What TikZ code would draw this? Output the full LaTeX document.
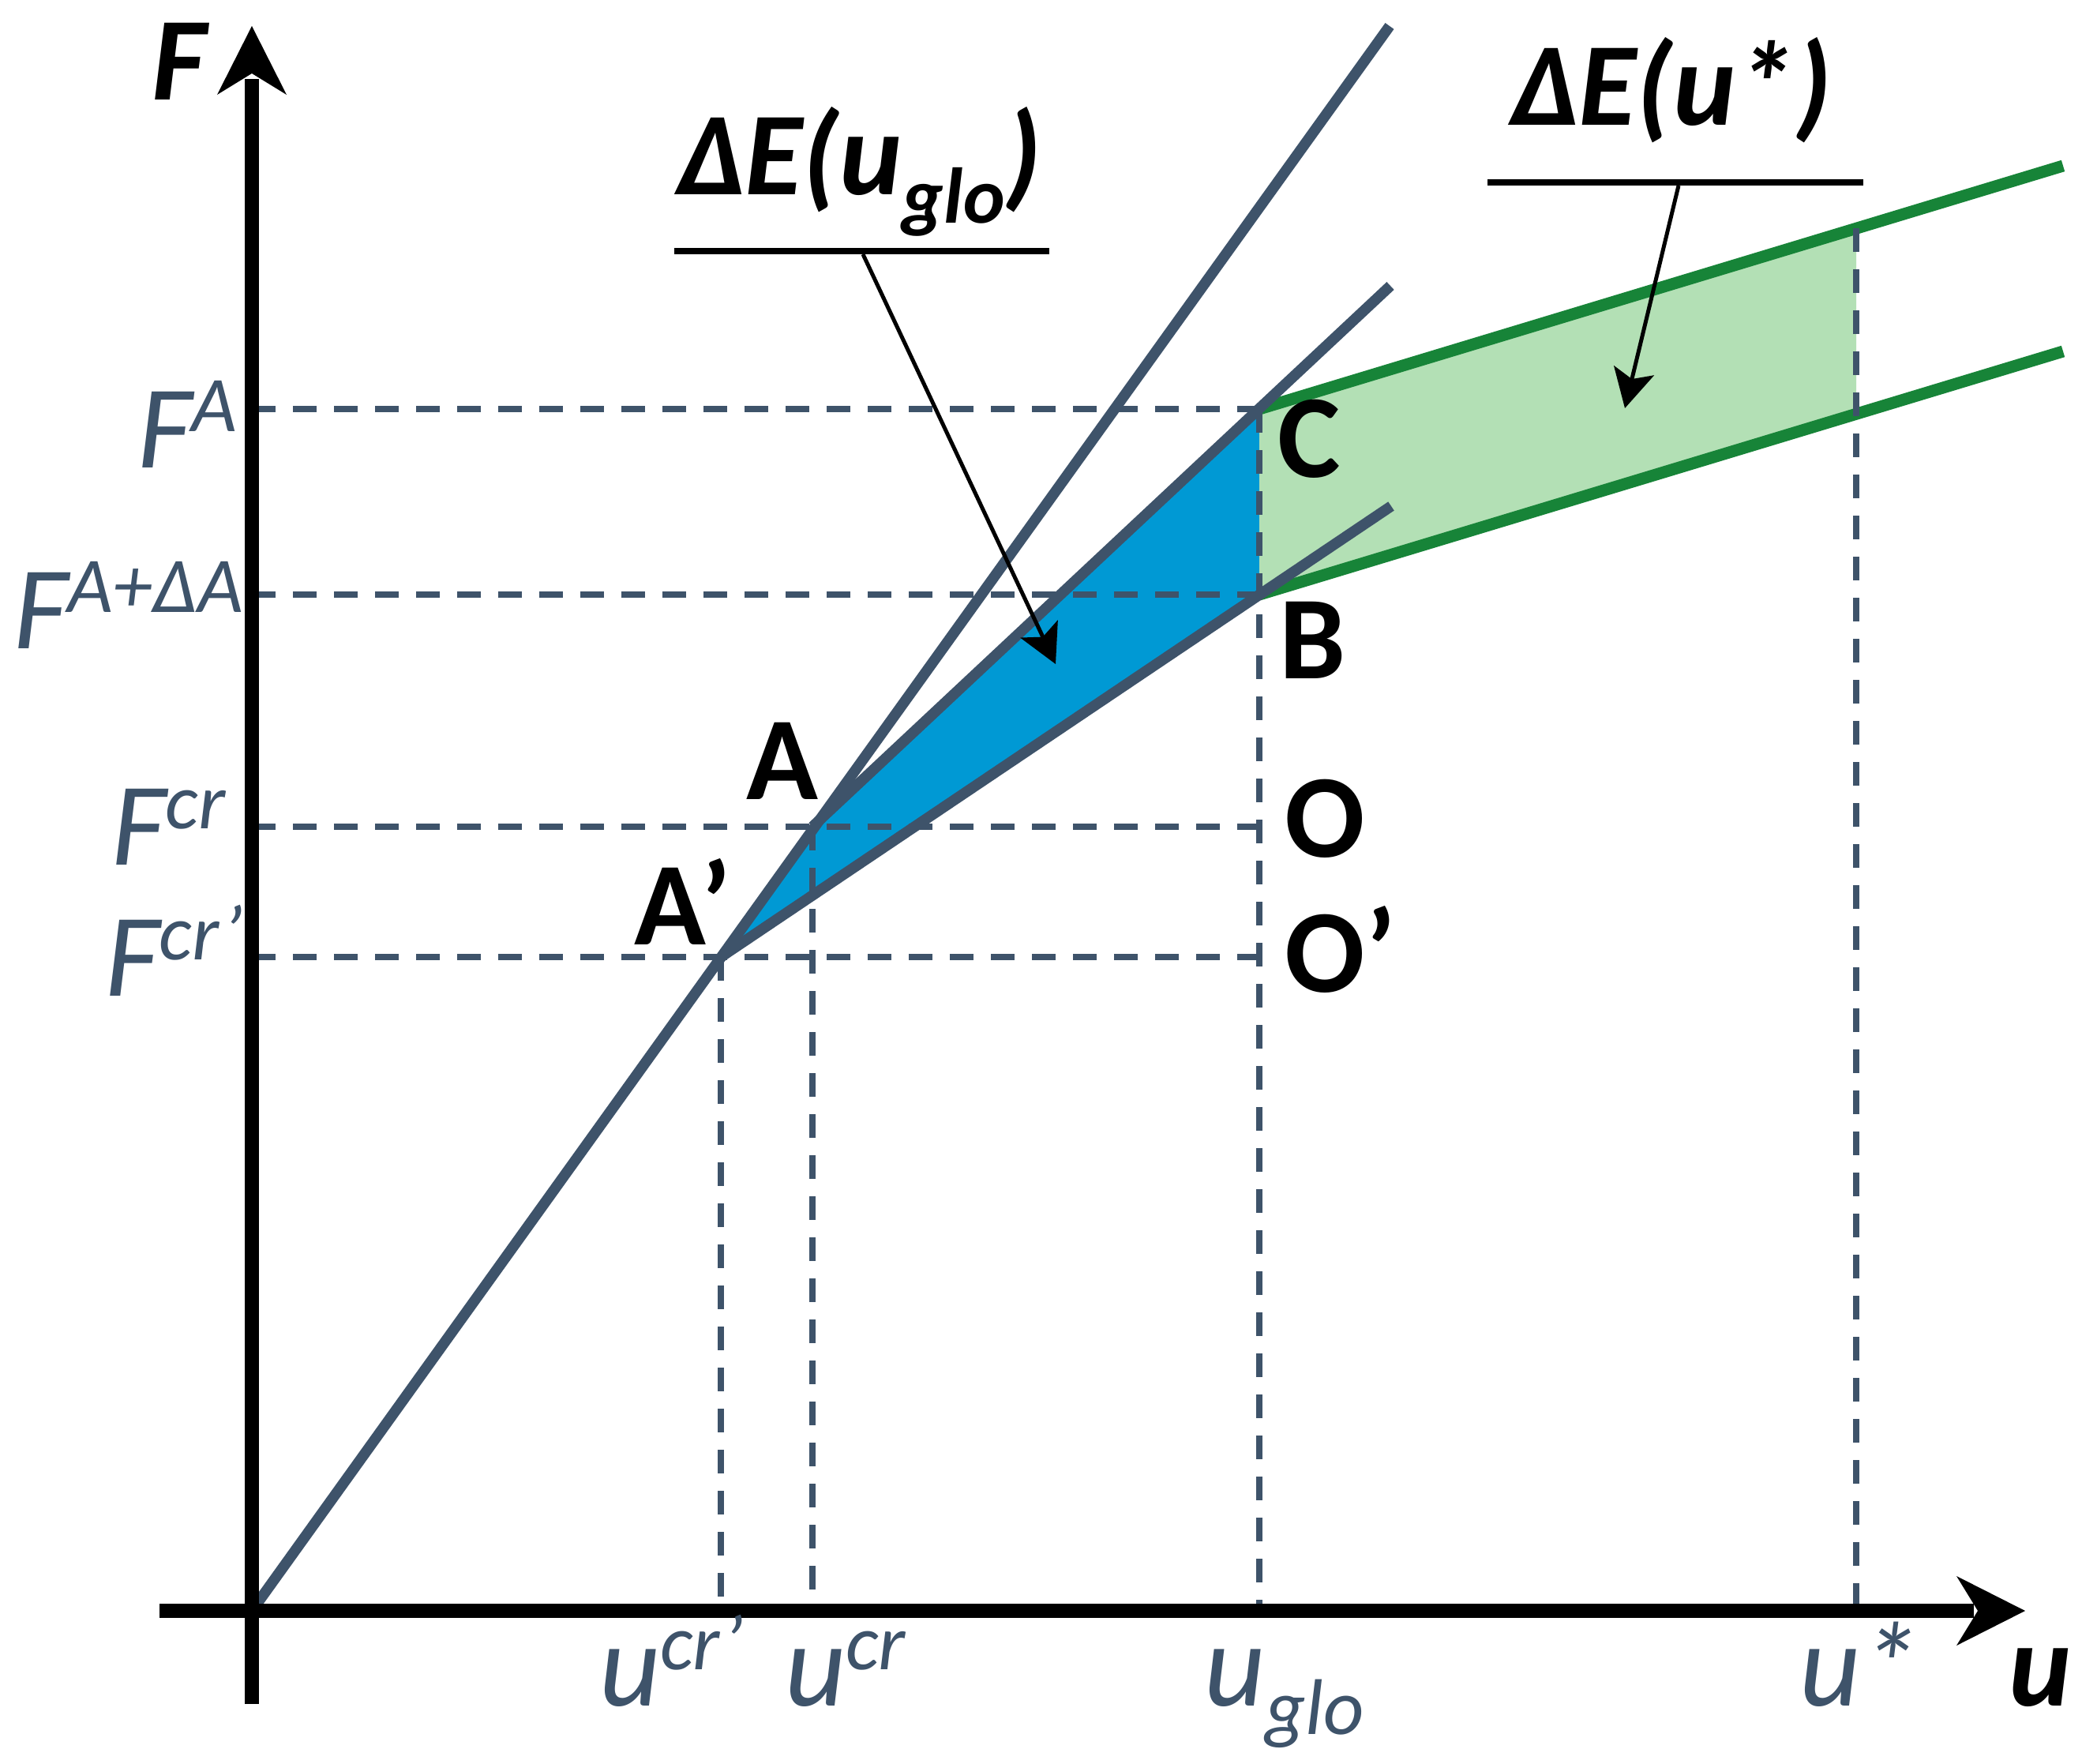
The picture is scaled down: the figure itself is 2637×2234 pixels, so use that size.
\documentclass[tikz,border=0pt]{standalone}
\usepackage{fontspec}
\setmainfont{Carlito}
\usetikzlibrary{arrows.meta}
\definecolor{slate}{RGB}{62,83,106}
\definecolor{fillblue}{RGB}{0,153,212}
\definecolor{fillgreen}{RGB}{179,224,181}
\definecolor{linegreen}{RGB}{23,132,56}
\newcommand\sps[1]{\raisebox{46pt}{\fontsize{100pt}{100pt}\selectfont #1}}
\newcommand\sbs[1]{\raisebox{-36pt}{\fontsize{100pt}{100pt}\selectfont #1}}
\begin{document}
\begin{tikzpicture}[x=1pt,y=-1pt,
  lbl/.style={anchor=base west, inner sep=0pt, outer sep=0pt},
  ticklbl/.style={lbl, text=slate, font=\fontsize{150pt}{150pt}\selectfont\itshape},
  axlbl/.style={lbl, font=\fontsize{150pt}{150pt}\selectfont\bfseries\itshape},
  ptlbl/.style={lbl, font=\fontsize{150pt}{150pt}\selectfont\bfseries},
  guide/.style={draw=slate, line width=8pt, dash pattern=on 30pt off 22pt},
  graycurve/.style={draw=slate, line width=13.5pt},
  gline/.style={draw=linegreen, line width=15pt},
  axisline/.style={draw=black, line width=18pt},
  pointer/.style={draw=black, line width=5pt, -{Stealth[length=49pt,width=52pt,inset=11pt]}},
  underl/.style={draw=black, line width=8pt},
]
\useasboundingbox (0,0) rectangle (2637,2234);
% key points
\coordinate (O) at (319,2040);
\coordinate (T) at (1760,33);
\coordinate (A) at (1029,1047);
\coordinate (Ap) at (913,1212);
\coordinate (C) at (1595,518);
\coordinate (B) at (1595,753);
\coordinate (Oc) at (1595,1047);
\coordinate (Ocp) at (1595,1212);
\coordinate (ACend) at (1761,362);
\coordinate (ApBend) at (1762,641);
\coordinate (Gu) at (2351,289);
\coordinate (Gl) at (2351,524);
\coordinate (GuEnd) at (2613,210);
\coordinate (GlEnd) at (2613,445);
\coordinate (Yb) at (319,2158);
\coordinate (Yt) at (319,100);
\coordinate (Xl) at (202,2040);
\coordinate (Xr) at (2500,2040);
% fills
\fill[fillblue] (Ap) -- (A) -- (C) -- (B) -- cycle;
\fill[fillgreen] (C) -- (Gu) -- (Gl) -- (B) -- cycle;
% green lines
\draw[gline] (C) -- (GuEnd);
\draw[gline] (B) -- (GlEnd);
% guides
\draw[guide] (O |- C) -- (C);
\draw[guide] (O |- B) -- (B);
\draw[guide] (O |- A) -- (Oc);
\draw[guide] (O |- Ap) -- (Ocp);
\draw[guide] (C) -- (C |- O);
\draw[guide] (A) -- (A |- O);
\draw[guide] (Ap) -- (Ap |- O);
\draw[guide] (Gu) -- (Gu |- O);
% gray curves
\draw[graycurve] (O) -- (T);
\draw[graycurve] (A) -- (ACend);
\draw[graycurve] (Ap) -- (ApBend);
% axes
\draw[axisline] (Yb) -- (Yt);
\fill[black] (319,33) -- (363,120) -- (319,93) -- (275,120) -- cycle;
\draw[axisline] (Xl) -- (Xr);
\fill[black] (2565,2040) -- (2478,2084) -- (2505,2040) -- (2478,1996) -- cycle;
% axis labels
\node[axlbl] (lF) at (192,127) {F};
\node[axlbl] (lu) at (2544,2160) {u};
% tick labels
\node[ticklbl] (lFA) at (174,592) {F\sps{A}};
\node[ticklbl] (lFAdA) at (17,821) {F\sps{A+ΔA}};
\node[ticklbl] (lFcr) at (141,1095) {F\sps{cr}};
\node[ticklbl] (lFcrp) at (133,1261) {F\sps{cr’}};
\node[ticklbl] (lucrp) at (759,2160) {u\sps{cr’}};
\node[ticklbl] (lucr) at (994,2160) {u\sps{cr}};
\node[ticklbl] (luglo) at (1525,2160) {u\sbs{glo}};
\node[ticklbl] (lustar) at (2279,2160) {u*};
% point labels
\node[ptlbl] (lA) at (945,1012) {A};
\node[ptlbl] (lAp) at (803,1196) {A’};
\node[ptlbl] (lO) at (1627,1085) {O};
\node[ptlbl] (lOp) at (1627,1256) {O’};
\node[ptlbl] (lC) at (1618,604) {C};
\node[ptlbl] (lB) at (1620,859) {B};
% energy labels
\node[axlbl] (lEglo) at (857,247) {ΔE(u\sbs{glo})};
\coordinate (ug1) at (854,318);
\coordinate (ug2) at (1329,318);
\draw[underl] (ug1) -- (ug2);
\coordinate (pg1) at (1093,322);
\coordinate (pg2) at (1337,841);
\draw[pointer] (pg1) -- (pg2);
\node[axlbl] (lEstar) at (1913,159) {ΔE(u*)};
\coordinate (us1) at (1884,231);
\coordinate (us2) at (2360,231);
\draw[underl] (us1) -- (us2);
\coordinate (ps1) at (2126,235);
\coordinate (ps2) at (2058,517);
\draw[pointer] (ps1) -- (ps2);
\end{tikzpicture}
\end{document}
